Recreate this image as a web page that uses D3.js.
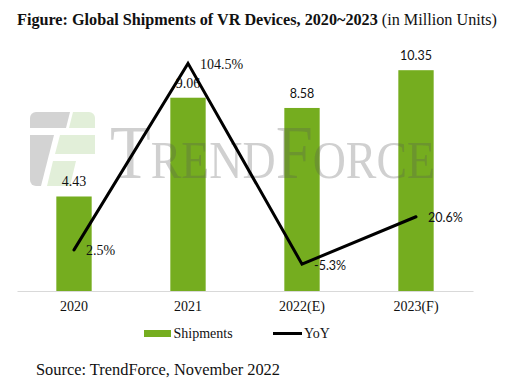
<!DOCTYPE html>
<html><head><meta charset="utf-8">
<script src="https://cdn.jsdelivr.net/npm/d3@7"></script>
<style>body{margin:0;background:#fff}svg{display:block}</style>
</head><body>
<svg id="c" width="518" height="391"></svg>
<script>
const categories = ["2020", "2021", "2022(E)", "2023(F)"];
const shipments = [4.43, 9.06, 8.58, 10.35];
const shipmentLabels = ["4.43", "9.06", "8.58", "10.35"];
const yoy = [2.5, 104.5, -5.3, 20.6];
const yoyLabels = ["2.5%", "104.5%", "-5.3%", "20.6%"];
const serifLabel = [true, true, false, false];
const serifYoy = [true, true, false, false];

const svg = d3.select("#c");
const SERIF = "Liberation Serif, DejaVu Serif, serif";
const SANS = "Lato, Liberation Sans, sans-serif";
const GREEN = "#75ad1f";

const x = d3.scaleBand().domain(categories).range([17, 473]).paddingInner(0.69).paddingOuter(0.345);
const y = d3.scaleLinear().domain([0, 12]).range([291, 35]);
const y2 = d3.scaleLinear().domain([-20, 120]).range([291, 35]);

// title
const t = svg.append("text").attr("x", 17).attr("y", 25).attr("font-family", SERIF).attr("font-size", 16.2).attr("fill", "#111");
t.append("tspan").attr("font-weight", "bold").text("Figure: Global Shipments of VR Devices, 2020~2023");
t.append("tspan").text(" (in Million Units)");

// bars
svg.append("g").selectAll("rect").data(categories).join("rect")
  .attr("x", d => x(d)).attr("width", x.bandwidth())
  .attr("y", (d, i) => y(shipments[i])).attr("height", (d, i) => y(0) - y(shipments[i]))
  .attr("fill", GREEN);

// axis
const xa = svg.append("g").attr("transform", "translate(0,291)").call(d3.axisBottom(x).tickSize(0).tickPadding(10));
xa.attr("font-family", SERIF).attr("font-size", 14);
xa.select(".domain").attr("stroke", "#d9d9d9").attr("stroke-width", 1);
xa.selectAll("text").style("font-family", SERIF).style("font-size", "14px").attr("fill", "#111");

// watermark logo
const wm = svg.append("g");
const clip = svg.append("defs").append("clipPath").attr("id", "lg");
clip.append("rect").attr("x", 30).attr("y", 112).attr("width", 65).attr("height", 74).attr("rx", 6);
const lg = wm.append("g").attr("clip-path", "url(#lg)");
const poly = (pts, fill) => lg.append("polygon").attr("points", pts.map(p => p.join(",")).join(" ")).attr("fill", fill);
poly([[30,112],[70,112],[66,128],[30,128]], "#d3d3d3");
poly([[73,112],[95,112],[95,128],[69,128]], "#e2efd9");
poly([[30,135],[54,135],[41,186],[30,186]], "#d3d3d3");
poly([[60,135],[95,135],[95,154],[55,154]], "#e2efd9");
poly([[53,161],[76,161],[70,186],[47,186]], "#e2efd9");

// watermark text
const wt = wm.append("text").attr("transform", "translate(110,178) scale(0.866,1)").style("font-family", SERIF)
  .attr("fill", "#555").attr("fill-opacity", 0.28);
wt.append("tspan").attr("font-size", 77).text("T");
wt.append("tspan").attr("font-size", 53).text("REND");
wt.append("tspan").attr("font-size", 77).text("F");
wt.append("tspan").attr("font-size", 53).text("ORCE");

// bar labels
svg.append("g").selectAll("text").data(categories).join("text")
  .attr("x", d => x(d) + x.bandwidth() / 2).attr("y", (d, i) => y(shipments[i]) - 10)
  .attr("text-anchor", "middle")
  .style("font-family", (d, i) => serifLabel[i] ? SERIF : SANS)
  .style("font-size", (d, i) => serifLabel[i] ? "14px" : "12.5px")
  .attr("fill", "#111")
  .text((d, i) => shipmentLabels[i]);

// line
const line = d3.line().x((d, i) => x(categories[i]) + x.bandwidth() / 2).y(d => y2(d));
svg.append("path").datum(yoy).attr("d", line).attr("fill", "none").attr("stroke", "#000")
  .attr("stroke-width", 3).attr("stroke-linejoin", "miter").attr("stroke-linecap", "round");

svg.append("g").selectAll("text").data(yoy).join("text")
  .attr("x", (d, i) => x(categories[i]) + x.bandwidth() / 2 + 12).attr("y", d => y2(d) + 5.5)
  .style("font-family", (d, i) => serifYoy[i] ? SERIF : SANS)
  .style("font-size", (d, i) => serifYoy[i] ? "14px" : "12.5px")
  .attr("fill", "#111")
  .text((d, i) => yoyLabels[i]);

// legend
const lgd = svg.append("g");
lgd.append("rect").attr("x", 144).attr("y", 330).attr("width", 27).attr("height", 7).attr("fill", GREEN);
lgd.append("text").attr("x", 173.5).attr("y", 338).style("font-family", SERIF).style("font-size", "14px").attr("fill", "#111").text("Shipments");
lgd.append("line").attr("x1", 273).attr("x2", 302).attr("y1", 333.5).attr("y2", 333.5).attr("stroke", "#000").attr("stroke-width", 3);
lgd.append("text").attr("x", 304).attr("y", 338).style("font-family", SERIF).style("font-size", "14px").attr("fill", "#111").text("YoY");

// source
svg.append("text").attr("x", 36).attr("y", 375).style("font-family", SERIF).style("font-size", "16.4px").attr("fill", "#111")
  .text("Source: TrendForce, November 2022");
</script>
</body></html>
